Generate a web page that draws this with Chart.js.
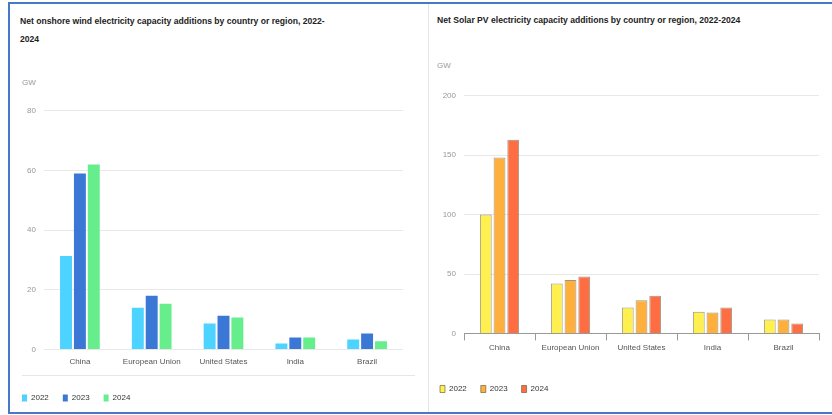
<!DOCTYPE html>
<html>
<head>
<meta charset="utf-8">
<script src="https://cdn.jsdelivr.net/npm/chart.js@4.4.1/dist/chart.umd.min.js"></script>
<style>
  body { margin: 0; background: #fff; font-family: "Liberation Sans", Arial, sans-serif; }
  #wrap { position: relative; width: 832px; height: 415px; overflow: hidden; }
  .line { position: absolute; }
  .title { position: absolute; font-size: 8.6px; font-weight: bold; color: #222; line-height: 18px; }
  .unit { position: absolute; font-size: 8px; color: #999; }
  canvas { position: absolute; }
</style>
</head>
<body>
<div id="wrap">
  <div class="line" style="left:8px;top:2px;width:824px;height:2px;background:#4a78c8"></div>
  <div class="line" style="left:8px;top:2px;width:2px;height:412px;background:#4a78c8"></div>
  <div class="line" style="left:8px;top:412px;width:824px;height:2px;background:#4a78c8"></div>
  <div class="line" style="left:428px;top:4px;width:1px;height:408px;background:#e4e4e4"></div>
  <div class="line" style="left:22px;top:375px;width:393px;height:1px;background:#e6e6e6"></div>

  <div class="title" style="left:20px;top:12px;width:318px">Net onshore wind electricity capacity additions by country or region, 2022-<wbr>2024</div>
  <div class="unit" style="left:22px;top:78px">GW</div>
  <div class="title" style="left:437px;top:11px;width:390px">Net Solar PV electricity capacity additions by country or region, 2022-2024</div>
  <div class="unit" style="left:437px;top:61px">GW</div>

  <canvas id="windChart" style="left:8px;top:98px;width:407px;height:314px"></canvas>
  <canvas id="solarChart" style="left:426px;top:83px;width:404px;height:320px"></canvas>
</div>
<script>
const regions = ["China", "European Union", "United States", "India", "Brazil"];
const years = ["2022", "2023", "2024"];

// onshore wind, GW
const wind2022 = [31.3, 14, 8.7, 2, 3.3];
const wind2023 = [59, 18, 11.3, 4, 5.3];
const wind2024 = [62, 15.3, 10.7, 4, 2.7];
const windColors = ["#4dd3ff", "#3b78d6", "#66ee8c"];

// solar PV, GW
const solar2022 = [100, 42, 21.7, 18.3, 11.7];
const solar2023 = [148, 45, 28, 17.5, 11.7];
const solar2024 = [163, 48, 31.7, 21.7, 8.3];
const solarColors = ["#fff04f", "#ffb03c", "#ff6e42"];

const windTicks = { max: 80, step: 20 };
const solarTicks = { max: 200, step: 50 };

function makeSets(series, colors, border) {
  return series.map((vals, i) => ({
    label: years[i],
    data: vals,
    backgroundColor: colors[i],
    borderColor: border,
    borderWidth: border ? 1 : 0,
    categoryPercentage: 0.58,
    barPercentage: 0.86
  }));
}

function makeChart(id, sets, ticks, yWidth, padRight, showAxis, xExtra, xPad) {
  return new Chart(document.getElementById(id), {
    type: "bar",
    data: { labels: regions, datasets: sets },
    options: {
      responsive: false,
      animation: false,
      layout: { padding: { top: 8, right: padRight, left: 0, bottom: 0 } },
      plugins: {
        tooltip: { enabled: false },
        legend: {
          position: "bottom",
          align: "start",
          labels: {
            boxWidth: 5,
            boxHeight: 7,
            padding: 14,
            color: "#333",
            font: { size: 8, family: "Liberation Sans" }
          }
        }
      },
      scales: {
        x: {
          border: { display: showAxis, color: "#999" },
          grid: { display: showAxis, drawOnChartArea: false, color: "#999", tickLength: 7 },
          afterFit: (s) => { s.height += xExtra; },
          ticks: {
            color: "#555",
            padding: xPad,
            maxRotation: 0,
            autoSkip: false,
            font: { size: 8, family: "Liberation Sans" }
          }
        },
        y: {
          min: 0,
          max: ticks.max,
          border: { display: false },
          grid: { color: "#e8e8e8", drawTicks: false },
          afterFit: (s) => { s.width = yWidth; },
          ticks: {
            stepSize: ticks.step,
            color: "#999",
            padding: 8,
            font: { size: 8, family: "Liberation Sans" }
          }
        }
      }
    }
  });
}

makeChart("windChart", makeSets([wind2022, wind2023, wind2024], windColors, null), windTicks, 36, 12, false, 12, 1);
makeChart("solarChart", makeSets([solar2022, solar2023, solar2024], solarColors, "rgba(90,80,50,0.6)"), solarTicks, 38, 11, true, 15, 3);
</script>
</body>
</html>
